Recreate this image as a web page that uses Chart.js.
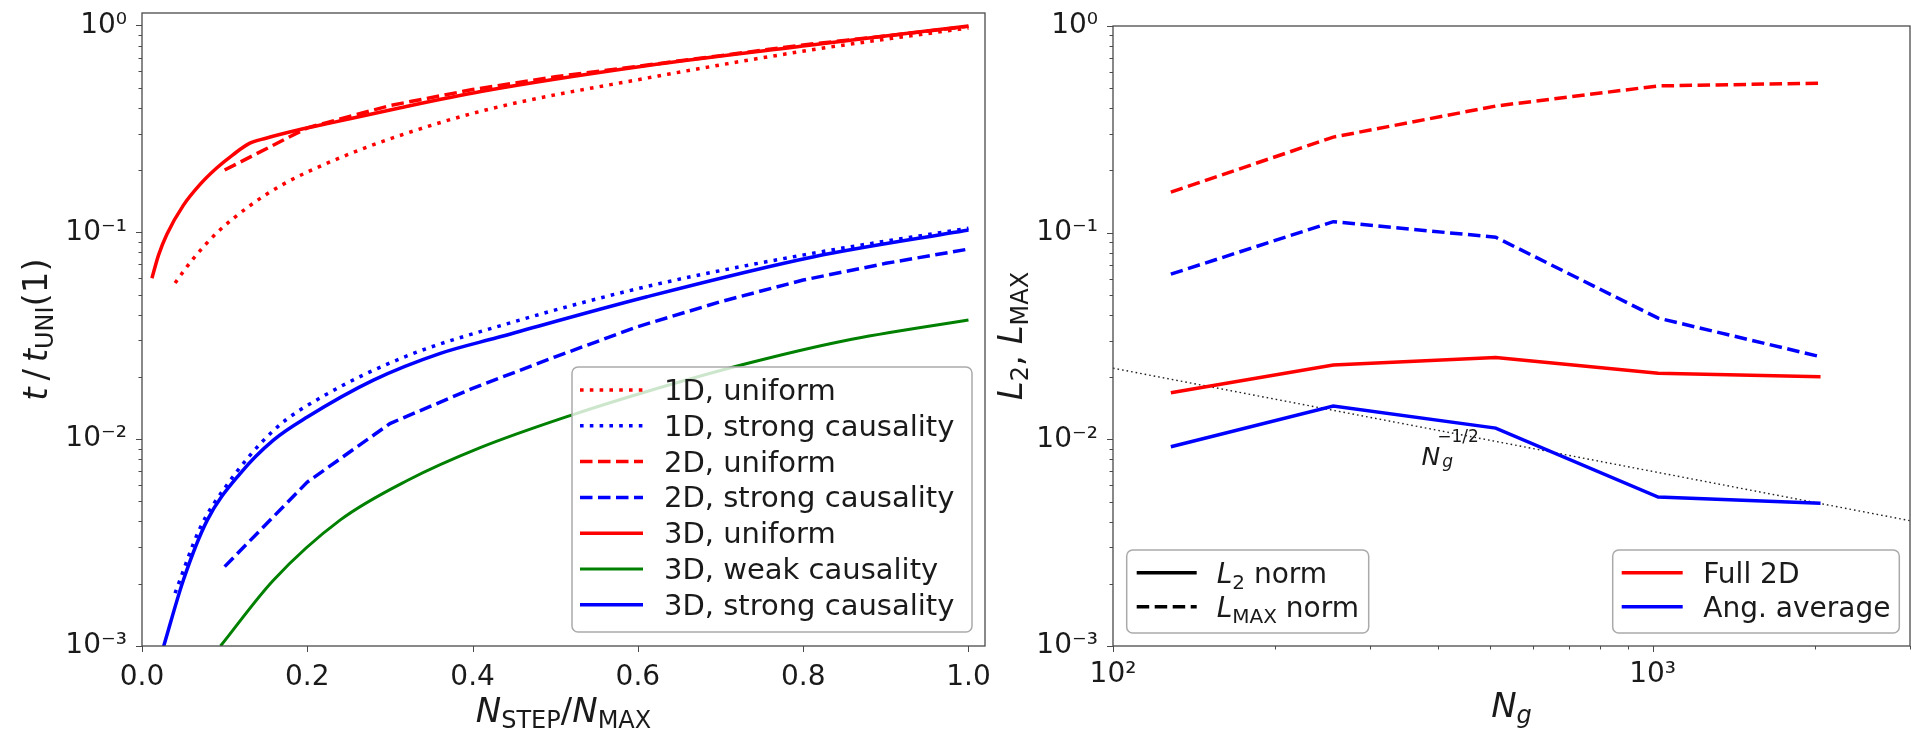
<!DOCTYPE html>
<html><head><meta charset="utf-8">
<script src="https://cdn.jsdelivr.net/npm/chart.js@4.4.1/dist/chart.umd.min.js"></script>
<style>
html,body{margin:0;padding:0;background:#fff;overflow:hidden;width:1911px;height:729px}
#wrapL{position:absolute;left:0;top:0;width:995px;height:729px}
#wrapR{position:absolute;left:995px;top:0;width:916px;height:729px}
</style></head><body>
<div id="wrapL"><canvas id="cL"></canvas></div>
<div id="wrapR"><canvas id="cR"></canvas></div>
<script>
// ---------------- LEFT PANEL DATA ----------------
const L_X_1D_UNI = [0.04, 0.06, 0.09, 0.13, 0.17, 0.23, 0.31, 0.42, 0.61, 0.81, 1.0];
const L_Y_1D_UNI = [0.0569, 0.0729, 0.0989, 0.134, 0.170, 0.221, 0.292, 0.394, 0.556, 0.762, 0.973];

const L_X_1D_STRONG = [0.04, 0.07, 0.10, 0.16, 0.22, 0.32, 0.43, 0.61, 0.81, 1.0];
const L_Y_1D_STRONG = [0.0018, 0.0037, 0.0058, 0.0111, 0.0162, 0.0252, 0.035, 0.0546, 0.079, 0.1046];

const L_X_2D = [0.1, 0.2, 0.3, 0.4, 0.5, 0.6, 0.7, 0.8, 0.9, 1.0];
const L_Y_2D_UNI = [0.2, 0.32, 0.41, 0.49, 0.565, 0.635, 0.715, 0.805, 0.89, 0.99];
const L_Y_2D_STRONG = [0.00242, 0.0062, 0.0119, 0.0176, 0.025, 0.035, 0.0462, 0.0588, 0.0708, 0.083];

const L_X_3D_UNI = [0.012, 0.02, 0.03, 0.05, 0.07, 0.09, 0.11, 0.13, 0.15, 0.19, 0.23, 0.31, 0.41, 0.61, 0.81, 1.0];
const L_Y_3D_UNI = [0.060, 0.0776, 0.0977, 0.135, 0.170, 0.204, 0.237, 0.269, 0.285, 0.313, 0.339, 0.398, 0.479, 0.638, 0.804, 0.995];

const L_X_3D_WEAK = [0.095, 0.159, 0.24, 0.321, 0.41, 0.518, 0.611, 0.732, 0.85, 1.0];
const L_Y_3D_WEAK = [0.001, 0.00208, 0.00407, 0.00631, 0.00912, 0.0130, 0.0170, 0.0232, 0.0299, 0.0377];

const L_X_3D_STRONG = [0.026, 0.05, 0.079, 0.119, 0.159, 0.2, 0.28, 0.361, 0.43, 0.611, 0.813, 1.0];
const L_Y_3D_STRONG = [0.00099, 0.00208, 0.00406, 0.00684, 0.0099, 0.0128, 0.0193, 0.026, 0.031, 0.0488, 0.0762, 0.1026];

const L_X_TICKS = [0.0, 0.2, 0.4, 0.6, 0.8, 1.0];
const L_Y_TICKS = [0.001, 0.01, 0.1, 1];
const L_LABELS = ['1D, uniform', '1D, strong causality', '2D, uniform', '2D, strong causality',
                  '3D, uniform', '3D, weak causality', '3D, strong causality'];

// ---------------- RIGHT PANEL DATA ----------------
const R_NG = [128, 256, 512, 1024, 2048];
const R_FULL2D_LMAX = [0.157, 0.29, 0.41, 0.513, 0.529];
const R_ANG_LMAX = [0.063, 0.113, 0.095, 0.0386, 0.0251];
const R_FULL2D_L2 = [0.0168, 0.0229, 0.0249, 0.0209, 0.0201];
const R_ANG_L2 = [0.0092, 0.0145, 0.01133, 0.00526, 0.0049];
const R_REF_X = [100, 3000];
const R_REF_Y = [0.0221, 0.00404];
const R_REF_LABEL_AT = [373, 0.00751];
const R_X_TICKS = [100, 1000];
const R_Y_TICKS = [0.001, 0.01, 0.1, 1];
const R_LABELS_COLOR = ['Full 2D', 'Ang. average'];

// ---------------- STYLE ----------------
const FONT = '"DejaVu Sans", sans-serif';
const TXT = '#1a1a1a';
const SPINE = '#4a4a4a';
const RED = '#ff0000', BLUE = '#0000ff', GREEN = '#008000';
const DOT = [3.6, 6.2], DASH = [12.5, 5.5];
const LW = 3.5;

Chart.defaults.font.family = FONT;
Chart.defaults.color = TXT;

const pts = (xs, ys) => xs.map((x, i) => ({x: x, y: ys[i]}));
const SUP = {'-':'⁻','0':'⁰','1':'¹','2':'²','3':'³','4':'⁴','5':'⁵','6':'⁶','7':'⁷','8':'⁸','9':'⁹'};
const pow10Label = v => '10' + String(Math.round(Math.log10(v))).split('').map(c => SUP[c]).join('');

function logTicks(majors, max) {
  const out = [];
  majors.forEach(m => {
    out.push({value: m, big: true});
    for (let k = 2; k <= 9; k++) { const v = m * k; if (v <= max * 1.0001) out.push({value: v, big: false}); }
  });
  return out;
}
function fixFit(s, dim, val) {
  s[dim] = val;
  s.paddingTop = 0; s.paddingBottom = 0; s.paddingLeft = 0; s.paddingRight = 0;
}

function richText(ctx, parts, x, y, rot, align) {
  ctx.save();
  ctx.translate(x, y);
  if (rot) ctx.rotate(rot);
  let w = 0;
  parts.forEach(p => { ctx.font = p.f; p.w = ctx.measureText(p.t).width; if (!p.noadv) w += p.w + (p.gap || 0); });
  let cx = align === 'center' ? -w / 2 : 0;
  ctx.textBaseline = 'alphabetic';
  ctx.textAlign = 'left';
  ctx.fillStyle = TXT;
  parts.forEach(p => {
    ctx.font = p.f;
    ctx.fillText(p.t, cx + (p.dx || 0), p.dy || 0);
    if (!p.noadv) cx += p.w + (p.gap || 0);
  });
  ctx.restore();
}

function frameAndTicks(chart) {
  const {ctx, chartArea: a, scales: {x, y}} = chart;
  ctx.save();
  ctx.strokeStyle = SPINE;
  ctx.lineWidth = 1.3;
  ctx.strokeRect(a.left, a.top, a.right - a.left, a.bottom - a.top);
  ctx.beginPath();
  x.ticks.forEach(t => {
    const px = Math.round(x.getPixelForValue(t.value)) + 0.5;
    const len = t.big ? 6 : 3.5;
    ctx.moveTo(px, a.bottom); ctx.lineTo(px, a.bottom + len);
  });
  y.ticks.forEach(t => {
    const py = Math.round(y.getPixelForValue(t.value)) + 0.5;
    const len = t.big ? 6 : 3.5;
    ctx.moveTo(a.left - len, py); ctx.lineTo(a.left, py);
  });
  ctx.lineWidth = 1;
  ctx.stroke();
  ctx.restore();
}

function legendBox(ctx, L, T, R, B) {
  ctx.save();
  ctx.beginPath();
  ctx.roundRect(L, T, R - L, B - T, 6);
  ctx.fillStyle = 'rgba(255,255,255,0.8)';
  ctx.fill();
  ctx.strokeStyle = '#aaaaaa';
  ctx.lineWidth = 1.5;
  ctx.stroke();
  ctx.restore();
}
function handle(ctx, x0, x1, y, color, dash, w) {
  ctx.save();
  ctx.strokeStyle = color; ctx.lineWidth = w; ctx.setLineDash(dash || []);
  ctx.lineCap = 'butt';
  ctx.beginPath(); ctx.moveTo(x0, y); ctx.lineTo(x1, y); ctx.stroke();
  ctx.restore();
}

// ---------------- LEFT CHART ----------------
const mkL = (label, xs, ys, color, dash, w, smooth) => ({
  label: label, data: pts(xs, ys), borderColor: color, backgroundColor: color,
  borderWidth: w, borderDash: dash, pointRadius: 0, fill: false,
  tension: 0, cubicInterpolationMode: smooth ? 'monotone' : 'default'
});

const leftDeco = {
  id: 'leftDeco',
  afterDatasetsDraw(chart) {
    const {ctx, chartArea: a} = chart;
    const R = a.right - 13, B = a.bottom - 14, L = R - 400, T = B - 265;
    legendBox(ctx, L, T, R, B);
    chart.data.datasets.forEach((ds, i) => {
      const yy = T + 23 + i * 35.8;
      handle(ctx, L + 8, L + 71, yy, ds.borderColor, ds.borderDash, ds.borderWidth);
      ctx.save();
      ctx.font = `29px ${FONT}`; ctx.fillStyle = TXT; ctx.textBaseline = 'alphabetic';
      ctx.fillText(ds.label, L + 92, yy + 10);
      ctx.restore();
    });
  },
  afterDraw(chart) {
    const {ctx, chartArea: a} = chart;
    frameAndTicks(chart);
    const big = `italic 34px ${FONT}`, reg = `34px ${FONT}`, sub = `24px ${FONT}`;
    richText(ctx, [
      {t: 'N', f: big}, {t: 'STEP', f: sub, dy: 6}, {t: '/', f: reg},
      {t: 'N', f: big}, {t: 'MAX', f: sub, dy: 6}
    ], (a.left + a.right) / 2, 722, 0, 'center');
    richText(ctx, [
      {t: 't', f: big}, {t: '\u2009/\u2009', f: reg}, {t: 't', f: big},
      {t: 'UNI', f: sub, dy: 6}, {t: '(1)', f: reg}
    ], 47, (a.top + a.bottom) / 2, -Math.PI / 2, 'center');
  }
};

new Chart(document.getElementById('cL'), {
  type: 'line',
  data: {
    datasets: [
      mkL(L_LABELS[0], L_X_1D_UNI, L_Y_1D_UNI, RED, DOT, LW, true),
      mkL(L_LABELS[1], L_X_1D_STRONG, L_Y_1D_STRONG, BLUE, DOT, LW, true),
      mkL(L_LABELS[2], L_X_2D, L_Y_2D_UNI, RED, DASH, LW, false),
      mkL(L_LABELS[3], L_X_2D, L_Y_2D_STRONG, BLUE, DASH, LW, false),
      mkL(L_LABELS[4], L_X_3D_UNI, L_Y_3D_UNI, RED, [], LW, true),
      mkL(L_LABELS[5], L_X_3D_WEAK, L_Y_3D_WEAK, GREEN, [], 3, true),
      mkL(L_LABELS[6], L_X_3D_STRONG, L_Y_3D_STRONG, BLUE, [], LW, true)
    ]
  },
  options: {
    responsive: true, maintainAspectRatio: false, animation: false, devicePixelRatio: 1,
    layout: {padding: {left: 0, right: 10, top: 13, bottom: 0}},
    plugins: {legend: {display: false}, tooltip: {enabled: false}},
    scales: {
      x: {
        type: 'linear', min: 0, max: 1.02,
        grid: {display: false, drawTicks: false}, border: {display: false},
        afterBuildTicks: s => { s.ticks = L_X_TICKS.map(v => ({value: v, big: true})); },
        afterFit: s => fixFit(s, 'height', 83),
        ticks: {autoSkip: false, maxRotation: 0, padding: 15, color: TXT,
                font: {size: 28, family: FONT}, callback: v => Number(v).toFixed(1)}
      },
      y: {
        type: 'logarithmic', min: 0.001, max: 1.149,
        grid: {display: false, drawTicks: false}, border: {display: false},
        afterBuildTicks: s => { s.ticks = logTicks(L_Y_TICKS, 1.149); },
        afterFit: s => fixFit(s, 'width', 142),
        ticks: {autoSkip: false, padding: 15, color: TXT, font: {size: 28, family: FONT},
                callback: (v, i, t) => t[i].big ? pow10Label(v) : ''}
      }
    }
  },
  plugins: [leftDeco]
});

// ---------------- RIGHT CHART ----------------
const rightDeco = {
  id: 'rightDeco',
  afterDatasetsDraw(chart) {
    const {ctx, chartArea: a, scales: {x, y}} = chart;
    const ax = x.getPixelForValue(R_REF_LABEL_AT[0]), ay = y.getPixelForValue(R_REF_LABEL_AT[1]);
    richText(ctx, [
      {t: 'N', f: `italic 25px ${FONT}`},
      {t: 'g', f: `italic 17px ${FONT}`, dy: 2, dx: 2, noadv: true},
      {t: '−1/2', f: `17px ${FONT}`, dy: -23, dx: -3}
    ], ax, ay, 0, 'left');
    const T = a.bottom - 96, B = a.bottom - 13;
    let L = a.left + 13.7, R = L + 242;
    legendBox(ctx, L, T, R, B);
    const rows = [T + 22.7, T + 56.7];
    handle(ctx, L + 10, L + 70, rows[0], '#000', [], LW);
    handle(ctx, L + 10, L + 70, rows[1], '#000', DASH, LW);
    const it = `italic 28px ${FONT}`, rg = `28px ${FONT}`, sb = `20px ${FONT}`;
    richText(ctx, [{t: 'L', f: it}, {t: '2', f: sb, dy: 6}, {t: ' norm', f: rg}], L + 90, rows[0] + 10, 0, 'left');
    richText(ctx, [{t: 'L', f: it}, {t: 'MAX', f: sb, dy: 6}, {t: ' norm', f: rg}], L + 90, rows[1] + 10, 0, 'left');
    R = a.right - 10.7; L = R - 286.6;
    legendBox(ctx, L, T, R, B);
    [RED, BLUE].forEach((c, i) => {
      handle(ctx, L + 9, L + 70, rows[i], c, [], LW);
      ctx.save(); ctx.font = rg; ctx.fillStyle = TXT; ctx.textBaseline = 'alphabetic';
      ctx.fillText(R_LABELS_COLOR[i], L + 90.6, rows[i] + 10); ctx.restore();
    });
  },
  afterDraw(chart) {
    const {ctx, chartArea: a} = chart;
    frameAndTicks(chart);
    const big = `italic 34px ${FONT}`, reg = `34px ${FONT}`, sub = `24px ${FONT}`;
    richText(ctx, [{t: 'N', f: big}, {t: 'g', f: `italic 24px ${FONT}`, dy: 6}],
      (a.left + a.right) / 2, 717, 0, 'center');
    richText(ctx, [
      {t: 'L', f: big}, {t: '2', f: sub, dy: 6}, {t: ', ', f: reg},
      {t: 'L', f: big}, {t: 'MAX', f: sub, dy: 6}
    ], 27, (a.top + a.bottom) / 2, -Math.PI / 2, 'center');
  }
};

const mkR = (label, ys, color, dash, w) => ({
  label: label, data: pts(R_NG, ys), borderColor: color, borderWidth: w,
  borderDash: dash, pointRadius: 0, fill: false, tension: 0
});

new Chart(document.getElementById('cR'), {
  type: 'line',
  data: {
    datasets: [
      mkR('Full 2D, L_MAX', R_FULL2D_LMAX, RED, DASH, LW),
      mkR('Ang. average, L_MAX', R_ANG_LMAX, BLUE, DASH, LW),
      mkR('Full 2D, L_2', R_FULL2D_L2, RED, [], LW),
      mkR('Ang. average, L_2', R_ANG_L2, BLUE, [], LW),
      {label: 'N_g^-1/2', data: pts(R_REF_X, R_REF_Y), borderColor: '#222', borderWidth: 1.4,
       borderDash: [1.6, 3], pointRadius: 0, fill: false, tension: 0}
    ]
  },
  options: {
    responsive: true, maintainAspectRatio: false, animation: false, devicePixelRatio: 1,
    layout: {padding: {left: 0, right: 1, top: 26, bottom: 0}},
    plugins: {legend: {display: false}, tooltip: {enabled: false}},
    scales: {
      x: {
        type: 'logarithmic', min: 100, max: 3000,
        grid: {display: false, drawTicks: false}, border: {display: false},
        afterBuildTicks: s => { s.ticks = logTicks(R_X_TICKS, 3000); },
        afterFit: s => fixFit(s, 'height', 83),
        ticks: {autoSkip: false, maxRotation: 0, padding: 12, color: TXT,
                font: {size: 28, family: FONT}, callback: (v, i, t) => t[i].big ? pow10Label(v) : ''}
      },
      y: {
        type: 'logarithmic', min: 0.001, max: 1,
        grid: {display: false, drawTicks: false}, border: {display: false},
        afterBuildTicks: s => { s.ticks = logTicks(R_Y_TICKS, 1); },
        afterFit: s => fixFit(s, 'width', 118),
        ticks: {autoSkip: false, padding: 15, color: TXT, font: {size: 28, family: FONT},
                callback: (v, i, t) => t[i].big ? pow10Label(v) : ''}
      }
    }
  },
  plugins: [rightDeco]
});
</script>
</body></html>
